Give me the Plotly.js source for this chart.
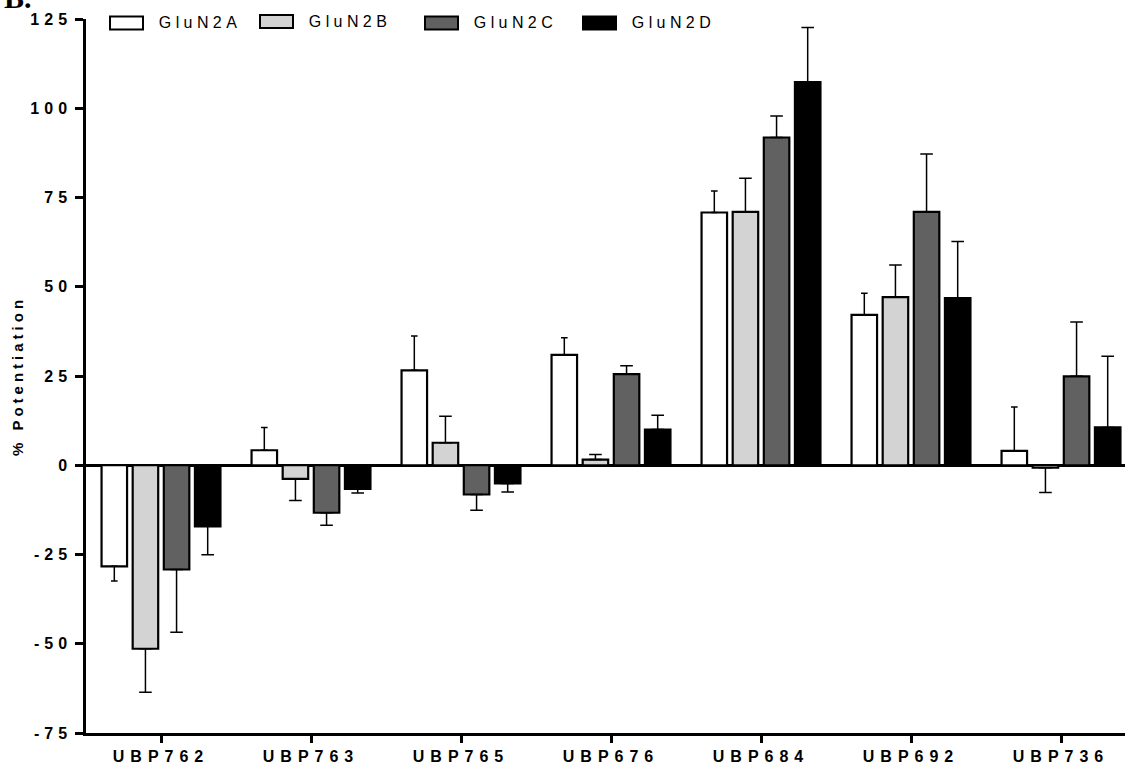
<!DOCTYPE html>
<html>
<head>
<meta charset="utf-8">
<script src="https://cdn.plot.ly/plotly-3.0.1.min.js"></script>
<style>
  html, body { margin: 0; padding: 0; background: #fff; }
  #chart { width: 1125px; height: 770px; }
  #chart .xtick text { letter-spacing: 6px; }
  #chart .ytick text { letter-spacing: 5px; }
  #chart .ytitle { letter-spacing: 4px; }
  #chart .annotation text { letter-spacing: 4.4px; }
  #chart .annotation[data-index="4"] text { letter-spacing: 0px; }
</style>
</head>
<body>
<div id="chart"></div>
<script>
// ---- data ----
const categories = ['UBP762', 'UBP763', 'UBP765', 'UBP676', 'UBP684', 'UBP692', 'UBP736'];
const seriesNames = ['GluN2A', 'GluN2B', 'GluN2C', 'GluN2D'];
const glun2a    = [-28.3,   4.2,  26.6, 30.9,  70.8, 42.1,  4.0];
const glun2aErr = [  4.1,   6.4,   9.6,  4.8,   6.0,  6.1, 12.3];
const glun2b    = [-51.4,  -3.8,   6.3,  1.6,  71.0, 47.1, -0.7];
const glun2bErr = [ 12.2,   6.1,   7.4,  1.4,   9.4,  9.0,  6.9];
const glun2c    = [-29.2, -13.3,  -8.2, 25.5,  91.8, 71.0, 24.9];
const glun2cErr = [ 17.6,   3.5,   4.4,  2.4,   6.0, 16.2, 15.2];
const glun2d    = [-17.1,  -6.6,  -5.1, 10.0, 107.3, 46.8, 10.6];
const glun2dErr = [  8.0,   1.2,   2.4,  4.0,  15.3, 15.9, 19.9];
const yTickVals = [-75, -50, -25, 0, 25, 50, 75, 100, 125];
const yTickText = ['-75', '-50', '-25', '0', '25', '50', '75', '100', '125'];

// ---- styles ----
const fills = ['#ffffff', '#d3d3d3', '#616161', '#000000'];
const capHalf = [3.3, 6.3, 6.3, 6.3];
const values = [glun2a, glun2b, glun2c, glun2d];
const errors = [glun2aErr, glun2bErr, glun2cErr, glun2dErr];

const traces = values.map((vals, i) => ({
  type: 'bar',
  name: seriesNames[i],
  x: categories,
  y: vals,
  marker: { color: fills[i], line: { color: '#000', width: 2.2 } },
  error_y: {
    type: 'data',
    symmetric: false,
    array: vals.map((v, k) => v >= 0 ? errors[i][k] : 0),
    arrayminus: vals.map((v, k) => v < 0 ? errors[i][k] : 0),
    color: '#000',
    thickness: 1.5,
    width: capHalf[i]
  },
  showlegend: false,
  hoverinfo: 'x+y+name'
}));

// layout geometry (pixels)
const L = 86, T = 19, W = 1125, H = 770, B = 37;
const plotW = W - L, plotH = H - T - B;
const px2x = p => (p - L) / plotW;
const py2y = p => (H - B - p) / plotH;

// manual legend (wide boxes as in the reference)
const legBoxLeft = [110, 260, 425, 583];
const legBoxW = 33;
const legTextLeft = [159, 309, 474, 632];
const legYc = [23, 21.5, 23, 23];
const shapes = [];
const annotations = [];
seriesNames.forEach((n, i) => {
  shapes.push({
    type: 'rect', xref: 'paper', yref: 'paper',
    x0: px2x(legBoxLeft[i]), x1: px2x(legBoxLeft[i] + legBoxW),
    y0: py2y(legYc[i] + 6.5), y1: py2y(legYc[i] - 6.5),
    fillcolor: fills[i], line: { color: '#000', width: 2 }
  });
  annotations.push({
    xref: 'paper', yref: 'paper',
    x: px2x(legTextLeft[i] + 41), y: py2y(legYc[i]),
    xanchor: 'center', yanchor: 'middle',
    text: n, showarrow: false,
    font: { family: 'Liberation Sans, Arial, sans-serif', size: 16, color: '#000' }
  });
});
annotations.push({
  xref: 'paper', yref: 'paper', x: px2x(2), y: 1,
  xanchor: 'left', yanchor: 'bottom', yshift: 3,
  text: 'B.', showarrow: false,
  font: { family: 'Liberation Serif, Times New Roman, serif', size: 30, weight: 'bold', color: '#000' }
});

const layout = {
  width: W, height: H,
  margin: { l: L, r: 0, t: T, b: B, pad: 0 },
  paper_bgcolor: '#fff', plot_bgcolor: '#fff',
  barmode: 'group',
  bargap: 0.17,
  bargroupgap: 0.18,
  font: { family: 'Liberation Sans, Arial, sans-serif', color: '#000' },
  xaxis: {
    type: 'category',
    range: [-0.5, -0.5 + plotW / 150],
    showline: true, linecolor: '#000', linewidth: 2.5,
    ticks: 'outside', ticklen: 7, tickwidth: 2.5, tickcolor: '#000',
    tickfont: { size: 16, weight: 'bold', color: '#000' },
    showgrid: false, zeroline: false, automargin: false
  },
  yaxis: {
    range: [-75, 125],
    tickmode: 'array', tickvals: yTickVals, ticktext: yTickText,
    showline: true, linecolor: '#000', linewidth: 2.5,
    ticks: 'outside', ticklen: 8, tickwidth: 2.5, tickcolor: '#000',
    tickfont: { size: 16, weight: 'bold', color: '#000' },
    showgrid: false,
    zeroline: true, zerolinecolor: '#000', zerolinewidth: 3,
    automargin: false,
    title: { text: '% Potentiation', font: { size: 15, weight: 'bold', color: '#000' }, standoff: 19 }
  },
  shapes: shapes,
  annotations: annotations
};

Plotly.newPlot('chart', traces, layout, { displayModeBar: false, staticPlot: false });
</script>
</body>
</html>
